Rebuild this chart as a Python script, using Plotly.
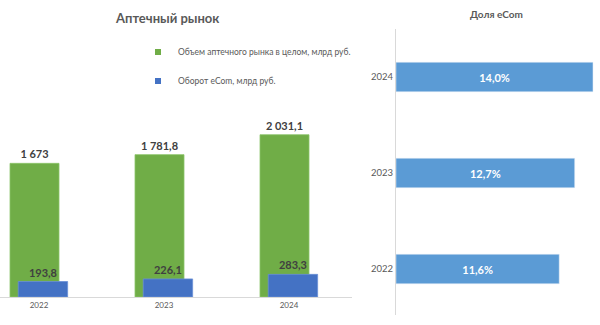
import plotly.graph_objects as go

years = ["2022", "2023", "2024"]
market_total = [1673, 1781.8, 2031.1]
market_labels = ["1 673", "1 781,8", "2 031,1"]
ecom_turnover = [193.8, 226.1, 283.3]
ecom_labels = ["193,8", "226,1", "283,3"]
ecom_share = [11.6, 12.7, 14.0]

name_total = "Объем аптечного рынка в целом, млрд руб."
name_ecom = "Оборот eCom, млрд руб."
title_left = "Аптечный рынок"
title_right = "Доля eCom"

GREEN = "#70ad47"
BLUE = "#4472c4"
LIGHTBLUE = "#5b9bd5"
GRAY = "#595959"
DARK = "#404040"
FONT = "Lato, Liberation Sans, sans-serif"

W, H = 600, 325
xs = list(range(len(years)))

fig = go.Figure()
fig.add_trace(go.Bar(
    x=xs, y=market_total, name=name_total, marker=dict(color=GREEN, line=dict(color="#8cc46a", width=0.8)),
    offset=-0.232, width=0.392, text=market_labels, textposition="outside",
    textfont=dict(family=FONT, size=11, color=DARK, weight="bold"), cliponaxis=False,
    showlegend=False, xaxis="x", yaxis="y"))
fig.add_trace(go.Bar(
    x=xs, y=ecom_turnover, name=name_ecom, marker=dict(color=BLUE, line=dict(color="#6a8fd6", width=0.8)),
    offset=-0.166, width=0.395, text=ecom_labels, textposition="outside",
    textfont=dict(family=FONT, size=11, color=DARK, weight="bold"), cliponaxis=False,
    showlegend=False, xaxis="x", yaxis="y"))
# legend entries
for nm, col, grp in [(name_total, GREEN, "a"), (name_ecom, BLUE, "b")]:
    fig.add_trace(go.Scatter(x=[None], y=[None], mode="markers", name=nm, legendgroup=grp,
                             marker=dict(symbol="square", size=6, color=col),
                             xaxis="x", yaxis="y"))

fig.add_trace(go.Bar(
    x=ecom_share, y=xs, orientation="h", marker=dict(color=LIGHTBLUE), width=0.307,
    text=[f"{v:.1f}%".replace(".", ",") for v in ecom_share], textposition="inside",
    insidetextanchor="middle", textfont=dict(family=FONT, size=11, color="white", weight="bold"),
    showlegend=False, xaxis="x2", yaxis="y2"))

left_scale = 0.0799  # px per unit
base_px = 297
top_px = 100
fig.update_layout(
    width=W, height=H, margin=dict(l=0, r=0, t=0, b=0),
    paper_bgcolor="white", plot_bgcolor="white", barmode="overlay",
    font=dict(family=FONT, color=GRAY),
    xaxis=dict(domain=[0, 352 / W], range=[-39 / 125, (352 - 39) / 125],
               tickvals=xs, ticktext=years, showline=True, linecolor="#d9d9d9", linewidth=1,
               showgrid=False, zeroline=False, ticks="", tickfont=dict(size=8, color=GRAY)),
    yaxis=dict(domain=[(H - base_px) / H, (H - top_px) / H],
               range=[0, (base_px - top_px) / left_scale], visible=False),
    xaxis2=dict(domain=[396 / W, 1], range=[0, 204 / 14.07], visible=False, anchor="y2"),
    yaxis2=dict(domain=[10 / H, 296 / H], range=[-0.479, 2.5], anchor="x2",
                tickvals=xs, ticktext=years, showline=True, linecolor="#d9d9d9", linewidth=1,
                showgrid=False, zeroline=False, ticks="", tickfont=dict(size=9.5, color=GRAY)),
    legend=dict(x=138 / W, y=1 - 37.5 / H, xanchor="left", yanchor="top",
                font=dict(size=8.5, color=GRAY), tracegroupgap=10, bgcolor="rgba(0,0,0,0)"),
    annotations=[
        dict(text=f"<b>{title_left}</b>", x=167 / W, y=1 - 18 / H, xref="paper", yref="paper",
             showarrow=False, xanchor="center", yanchor="middle", font=dict(size=13, color=GRAY)),
        dict(text=f"<b>{title_right}</b>", x=496.7 / W, y=1 - 14 / H, xref="paper", yref="paper",
             showarrow=False, xanchor="center", yanchor="middle", font=dict(size=10, color=GRAY)),
    ],
)

fig.write_html("out.html")
